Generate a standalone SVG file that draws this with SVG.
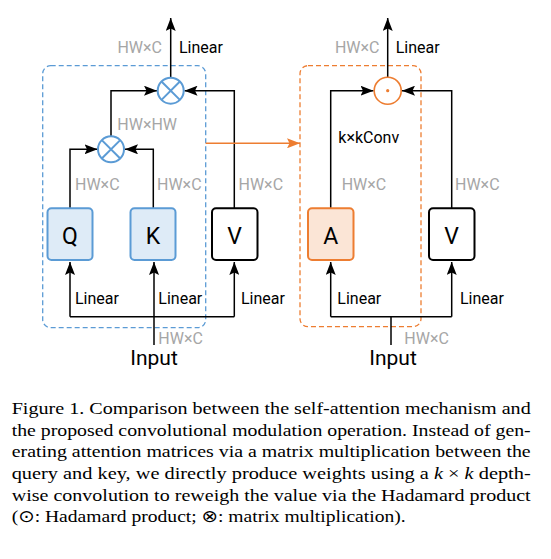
<svg xmlns="http://www.w3.org/2000/svg" width="551" height="559" viewBox="0 0 551 559">
<defs>
<marker id="ah" viewBox="0 0 13 10" refX="13" refY="5" markerWidth="13" markerHeight="10" markerUnits="userSpaceOnUse" orient="auto">
<path d="M0,0 L13,5 L0,10 L2.5,5 z" fill="#000"/>
</marker>
<marker id="aho" viewBox="0 0 13 10" refX="13" refY="5" markerWidth="13" markerHeight="10" markerUnits="userSpaceOnUse" orient="auto">
<path d="M0,0 L13,5 L0,10 L2.5,5 z" fill="#ED7D31"/>
</marker>
</defs>
<style>
.ln{fill:none;stroke:#000;stroke-width:1.5}
.dim{font-family:Roboto,"Liberation Sans",sans-serif;font-size:16px;fill:#A6A6A6}
.lab{font-family:Roboto,"Liberation Sans",sans-serif;font-size:16px;fill:#000}
.big{font-family:Roboto,"Liberation Sans",sans-serif;font-size:23px;fill:#000;text-anchor:middle}
.inp{font-family:Roboto,"Liberation Sans",sans-serif;font-size:21px;fill:#000;text-anchor:middle}
.cap{font-family:"Liberation Serif","Times New Roman",serif;font-size:17px;fill:#000}
.sym{font-family:"DejaVu Sans",sans-serif;font-weight:normal}
.bbox{fill:#DEEBF7;stroke:#5B9BD5;stroke-width:2}
.obox{fill:#FBE5D6;stroke:#ED7D31;stroke-width:2}
.wbox{fill:#fff;stroke:#000;stroke-width:2}
.mul{fill:#fff;stroke:#5B9BD5;stroke-width:2}
</style>
<rect width="551" height="559" fill="#fff"/>

<g id="left-frame">
<rect x="42.7" y="65.7" width="163" height="262" rx="8" fill="none" stroke="#5B9BD5" stroke-width="1.3" stroke-dasharray="5,3"/>
</g>
<g id="right-frame">
<rect x="300" y="65.7" width="121" height="261" rx="8" fill="none" stroke="#ED7D31" stroke-width="1.3" stroke-dasharray="5,3"/>
</g>

<g id="connectors">
<path class="ln" d="M154,345 V262" marker-end="url(#ah)"/>
<path class="ln" d="M70,316.7 H234.3"/>
<path class="ln" d="M70,316.7 V262" marker-end="url(#ah)"/>
<path class="ln" d="M234.3,316.7 V262" marker-end="url(#ah)"/>
<path class="ln" d="M70,208.3 V149.3 H97.5" marker-end="url(#ah)"/>
<path class="ln" d="M153.3,208.3 V149.3 H125" marker-end="url(#ah)"/>
<path class="ln" d="M111,136.3 V90.7 H157" marker-end="url(#ah)"/>
<path class="ln" d="M234.3,208.3 V90.7 H184.5" marker-end="url(#ah)"/>
<path class="ln" d="M170.7,77.7 V18" marker-end="url(#ah)"/>
<path d="M205.7,143.3 H300" fill="none" stroke="#ED7D31" stroke-width="1.5" marker-end="url(#aho)"/>
<path class="ln" d="M391,345 V316.7"/>
<path class="ln" d="M330.7,316.7 H451.7"/>
<path class="ln" d="M330.7,316.7 V262" marker-end="url(#ah)"/>
<path class="ln" d="M451.7,316.7 V262" marker-end="url(#ah)"/>
<path class="ln" d="M330.7,208.3 V90.7 H373.5" marker-end="url(#ah)"/>
<path class="ln" d="M451.7,208.3 V90.7 H402" marker-end="url(#ah)"/>
<path class="ln" d="M387.7,77.2 V18" marker-end="url(#ah)"/>
</g>

<g id="Q">
<rect class="bbox" x="47.5" y="208.3" width="45" height="51.7" rx="4"/>
<text class="big" x="70" y="243.5">Q</text>
</g>
<g id="K">
<rect class="bbox" x="130.5" y="208.3" width="45" height="51.7" rx="4"/>
<text class="big" x="153" y="243.5">K</text>
</g>
<g id="V-left">
<rect class="wbox" x="212" y="208.3" width="45.5" height="51.7" rx="4"/>
<text class="big" x="234.7" y="243.5">V</text>
</g>
<g id="A">
<rect class="obox" x="308" y="208.3" width="45.5" height="51.7" rx="4"/>
<text class="big" x="330.7" y="243.5">A</text>
</g>
<g id="V-right">
<rect class="wbox" x="429" y="208.3" width="45.5" height="51.7" rx="4"/>
<text class="big" x="451.7" y="243.5">V</text>
</g>

<g id="matmul-1">
<circle class="mul" cx="111" cy="149.3" r="13"/>
<path d="M101.8,140.1 L120.2,158.5 M120.2,140.1 L101.8,158.5" stroke="#5B9BD5" stroke-width="2"/>
</g>
<g id="matmul-2">
<circle class="mul" cx="170.7" cy="90.7" r="13"/>
<path d="M161.5,81.5 L179.9,99.9 M179.9,81.5 L161.5,99.9" stroke="#5B9BD5" stroke-width="2"/>
</g>
<g id="hadamard">
<circle cx="387.7" cy="90.7" r="13.5" fill="#fff" stroke="#ED7D31" stroke-width="1.6"/>
<circle cx="387.7" cy="90.7" r="1.6" fill="#ED7D31"/>
</g>

<g id="labels">
<text class="dim" x="162" y="53" text-anchor="end">HW×C</text>
<text class="lab" x="179" y="53">Linear</text>
<text class="dim" x="117.3" y="130">HW×HW</text>
<text class="dim" x="75" y="190">HW×C</text>
<text class="dim" x="157" y="190">HW×C</text>
<text class="dim" x="238.5" y="190">HW×C</text>
<text class="lab" x="75" y="304">Linear</text>
<text class="lab" x="158.3" y="304">Linear</text>
<text class="lab" x="241" y="304">Linear</text>
<text class="dim" x="158.3" y="344">HW×C</text>
<text class="inp" x="154" y="365">Input</text>

<text class="dim" x="379.5" y="53" text-anchor="end">HW×C</text>
<text class="lab" x="395.7" y="53">Linear</text>
<text class="lab" x="338.3" y="143.3">k×kConv</text>
<text class="dim" x="341.7" y="190">HW×C</text>
<text class="dim" x="455" y="190">HW×C</text>
<text class="lab" x="337.3" y="304">Linear</text>
<text class="lab" x="460" y="304">Linear</text>
<text class="dim" x="404.3" y="344">HW×C</text>
<text class="inp" x="393" y="365">Input</text>
</g>

<g id="caption">
<text class="cap" x="11.7" y="414" textLength="519" lengthAdjust="spacingAndGlyphs">Figure 1.  Comparison between the self-attention mechanism and</text>
<text class="cap" x="11.7" y="435.7" textLength="519" lengthAdjust="spacingAndGlyphs">the proposed convolutional modulation operation. Instead of gen-</text>
<text class="cap" x="11.7" y="457.3" textLength="519" lengthAdjust="spacingAndGlyphs">erating attention matrices via a matrix multiplication between the</text>
<text class="cap" x="11.7" y="479" textLength="519" lengthAdjust="spacingAndGlyphs">query and key, we directly produce weights using a <tspan font-style="italic">k</tspan> × <tspan font-style="italic">k</tspan> depth-</text>
<text class="cap" x="11.7" y="500.7" textLength="519" lengthAdjust="spacingAndGlyphs">wise convolution to reweigh the value via the Hadamard product</text>
<text class="cap" x="11.7" y="522.3" textLength="394" lengthAdjust="spacingAndGlyphs">(<tspan class="sym">⊙</tspan>: Hadamard product; <tspan class="sym">⊗</tspan>: matrix multiplication).</text>
</g>
</svg>
